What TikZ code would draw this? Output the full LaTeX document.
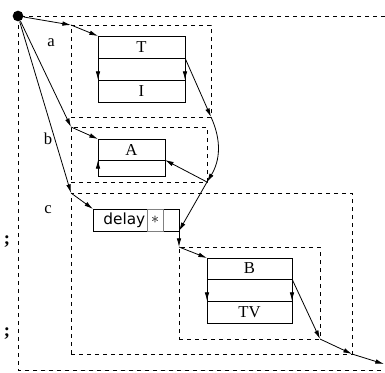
\documentclass[tikz,border=0pt]{standalone}
\usepackage{fontspec}
\setmainfont{Liberation Serif}
\newfontfamily\delayfont{DejaVu Sans}
\usetikzlibrary{arrows.meta,positioning}

\begin{document}
\begin{tikzpicture}[x=0.75pt, y=-0.75pt, semithick,
  font=\fontsize{12.5}{14}\selectfont,
  >={Latex[length=6.5pt,width=3.4pt]},
  frame/.style={draw, dashed, inner sep=0pt, outer sep=0pt, anchor=north west},
  row/.style={draw, inner sep=0pt, outer sep=0pt, minimum height=16.5pt}]
  \useasboundingbox (0,0) rectangle (385,372);
  \clip (0,0) rectangle (385,372);

  \node[circle, fill, minimum size=8pt, inner sep=0pt] (root) at (18,16) {};
  \draw[dashed] (385,16) -- (root.center) -- (18,370) -- (385,370);
  \coordinate (end) at (384,364);

  \node[frame, minimum width=105pt, minimum height=69pt]       (fa) at (71,25) {};
  \node[frame, minimum width=102pt, minimum height=41.25pt]    (fb) at (71,127) {};
  \node[frame, minimum width=210.75pt, minimum height=120.75pt] (fc) at (71,193) {};
  \node[frame, minimum width=105.75pt, minimum height=69pt]    (fd) at (179,247) {};

  \node[row, minimum width=65.25pt, anchor=north west]  (T) at (98,36) {T};
  \node[row, minimum width=65.25pt, below=0pt of T]     (Tgap) {};
  \node[row, minimum width=65.25pt, below=0pt of Tgap]  (I) {I};

  \node[row, minimum width=50.25pt, minimum height=15.75pt, anchor=north west] (A) at (98,139) {A};
  \node[row, minimum width=50.25pt, minimum height=12pt, below=0pt of A]       (Agap) {};

  \node[row, minimum width=64.5pt, anchor=north west]   (delay) at (93,209) {};
  \node[font=\delayfont\fontsize{11.5}{13}\selectfont, inner sep=0pt, right=7.5pt of delay.west] (dtext) {delay};
  \node[row, draw=gray, minimum width=12pt, left=12pt of delay.east] (star) {$\ast$};

  \node[row, minimum width=63.75pt, minimum height=15.75pt, anchor=north west] (B) at (207,258) {B};
  \node[row, minimum width=63.75pt, below=0pt of B]     (Bgap) {};
  \node[row, minimum width=63.75pt, below=0pt of Bgap]  (TV) {TV};

  \node (la) at (51,43)  {a};
  \node (lb) at (48,139) {b};
  \node (lc) at (48,210) {c};
  \node[font=\bfseries\fontsize{14}{16}\selectfont] (semi1) at (7,242) {;};
  \node[font=\bfseries\fontsize{14}{16}\selectfont] (semi2) at (7,334) {;};

  \draw[->] (root) -- (fa.north west);
  \draw[->] (fa.north west) -- (T.north west);
  \draw[->] (root) -- (fb.north west);
  \draw[->] (fb.north west) -- (A.north west);
  \draw[->] (root) -- (fc.north west);
  \draw[->] (fc.north west) -- (delay.north west);
  \draw[->] (Tgap.north west) -- (Tgap.south west);
  \draw[->] (Tgap.north east) -- (Tgap.south east);
  \draw[->] (Tgap.north east) -- (fa.south east);
  \draw[->] (fa.south east) to[bend left=28] (fb.south east);
  \draw[->] (fb.south east) -- (Agap.north east);
  \draw[->] (Agap.south west) -- (Agap.north west);
  \draw[->] (fb.south east) -- (delay.south east);
  \draw[->] (delay.south east) -- (fd.north west);
  \draw[->] (fd.north west) -- (B.north west);
  \draw[->] (Bgap.north west) -- (Bgap.south west);
  \draw[->] (Bgap.north east) -- (Bgap.south east);
  \draw[->] (Bgap.north east) -- (fd.south east);
  \draw[->] (fd.south east) -- (fc.south east);
  \draw[->] (fc.south east) -- (end);
\end{tikzpicture}
\end{document}
